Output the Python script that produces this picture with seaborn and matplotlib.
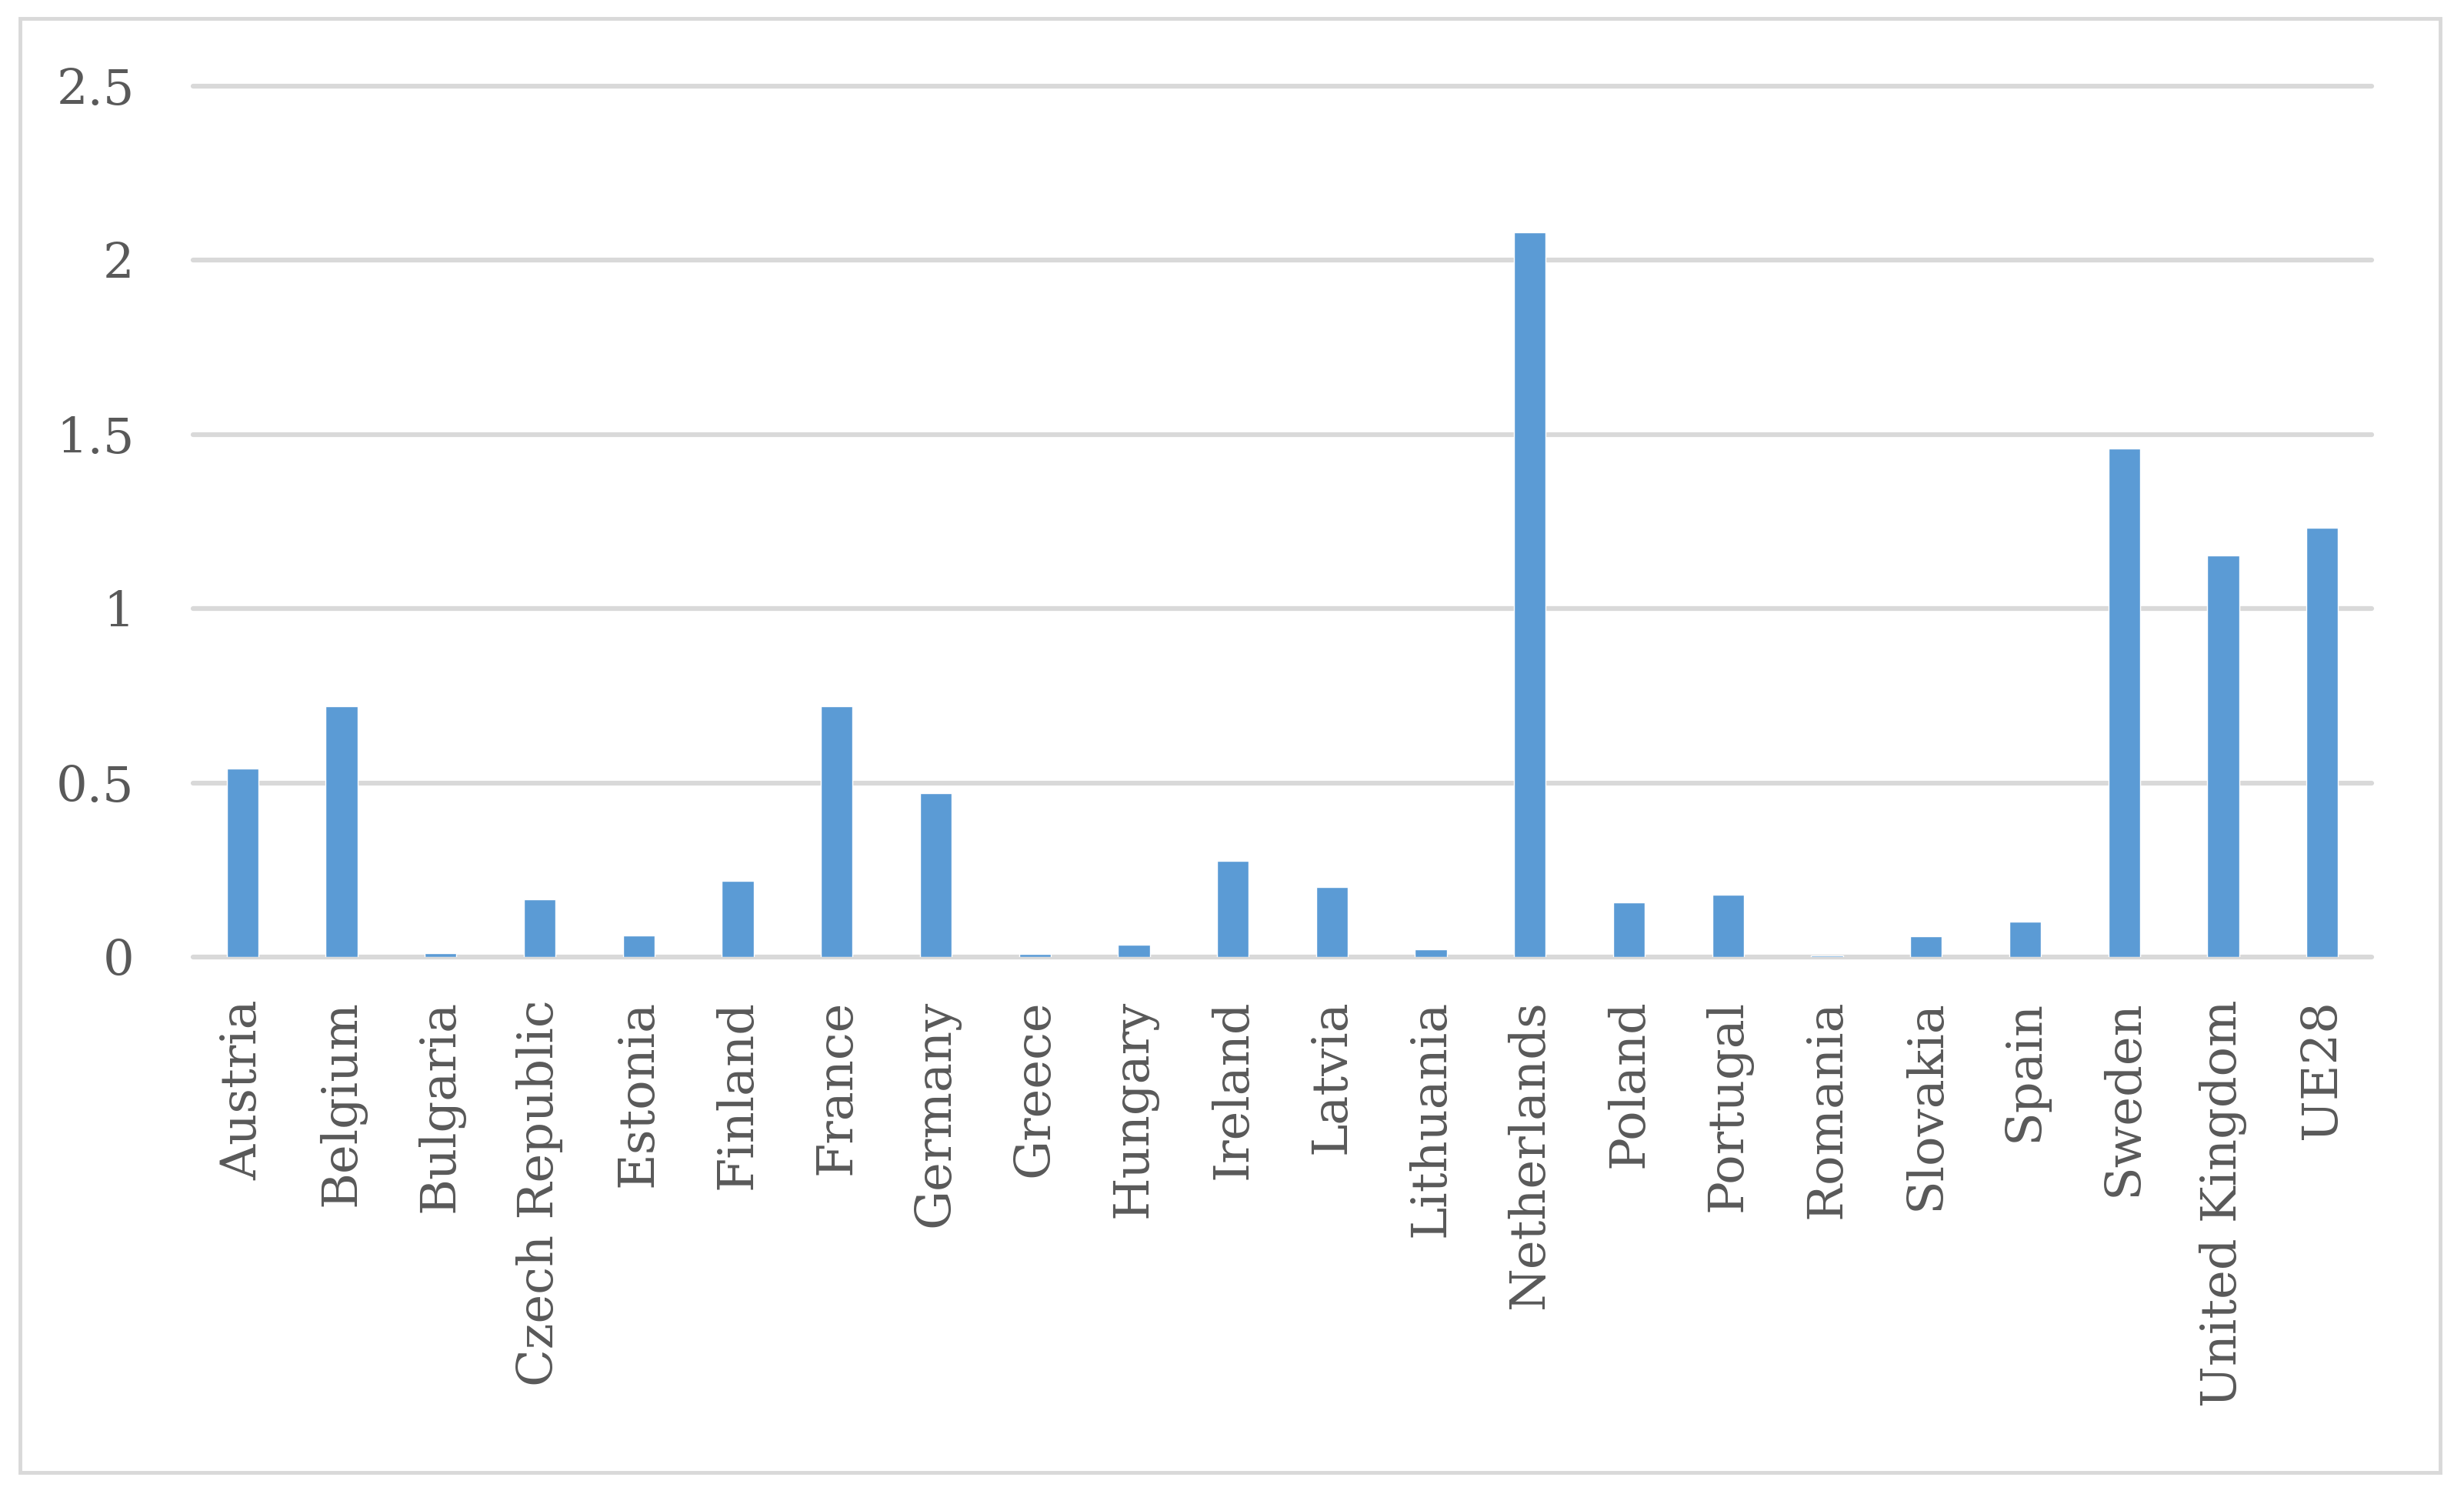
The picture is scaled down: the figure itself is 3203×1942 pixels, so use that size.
import matplotlib
matplotlib.use("Agg")
import matplotlib.pyplot as plt
import seaborn as sns
import pandas as pd
from matplotlib.patches import Rectangle

countries = ["Austria", "Belgium", "Bulgaria", "Czech Republic", "Estonia", "Finland",
             "France", "Germany", "Greece", "Hungary", "Ireland", "Latvia", "Lithuania",
             "Netherlands", "Poland", "Portugal", "Romania", "Slovakia", "Spain", "Sweden",
             "United Kingdom", "UE28"]
values = [0.54, 0.72, 0.01, 0.165, 0.062, 0.218,
          0.72, 0.47, 0.009, 0.036, 0.277, 0.2, 0.022,
          2.08, 0.157, 0.178, 0.004, 0.06, 0.102, 1.46,
          1.152, 1.232]
yticks = [0, 0.5, 1, 1.5, 2, 2.5]
ytick_labels = ["0", "0.5", "1", "1.5", "2", "2.5"]

sns.set_theme(style="white")
plt.rcParams['font.family'] = ['DejaVu Serif']

df = pd.DataFrame({"country": countries, "value": values})

fig = plt.figure(figsize=(32.03, 19.42), dpi=100)
ax = fig.add_axes([251/3203, 1 - 1244/1942, (3083-251)/3203, (1244-112)/1942])

sns.barplot(data=df, x="country", y="value", color="#5b9bd5", saturation=1,
            width=0.32, ax=ax, zorder=3)

ax.set_ylim(0, 2.5)
ax.set_xlim(-0.5, len(countries) - 0.5)
ax.set_yticks(yticks)
ax.set_yticklabels(ytick_labels)
for y in yticks:
    ax.axhline(y, color="#d9d9d9", lw=4.5, zorder=1, clip_on=False)
for s in ax.spines.values():
    s.set_visible(False)
ax.set_xlabel("")
ax.set_ylabel("")
ax.tick_params(axis="y", length=0, pad=55, labelsize=46, labelcolor="#595959")
ax.tick_params(axis="x", length=0, pad=40, labelsize=46, labelcolor="#595959")
plt.setp(ax.get_xticklabels(), rotation=90, ha="center", va="top")

fig.patches.append(Rectangle((26/3203, 1 - 1914/1942), (3172-26)/3203, (1914-24)/1942,
                             transform=fig.transFigure, fill=False,
                             edgecolor="#d9d9d9", lw=3.5, zorder=0))

fig.savefig("out.png", dpi=100)
